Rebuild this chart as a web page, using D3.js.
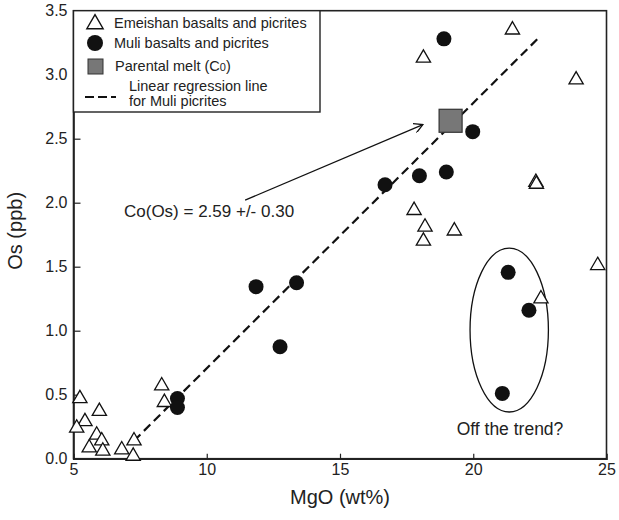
<!DOCTYPE html>
<html>
<head>
<meta charset="utf-8">
<script src="https://cdn.jsdelivr.net/npm/d3@7/dist/d3.min.js"></script>
<style>
  body { margin: 0; background: #fff; }
  svg { display: block; font-family: "Liberation Sans", Arial, Helvetica, sans-serif; }
</style>
</head>
<body>
<svg id="chart" width="619" height="520"></svg>
<script>
//Emeishan basalts and picrites (open triangles)
var emeishanMgO = [5.24, 5.97, 5.43, 5.12, 5.87, 6.06, 5.59, 6.10, 6.81, 7.27, 7.24, 8.31, 8.41, 21.47, 18.13, 23.86, 22.35, 22.37, 17.78, 18.19, 19.29, 18.13, 24.67, 22.54];
var emeishanOs = [0.47, 0.37, 0.29, 0.24, 0.185, 0.14, 0.086, 0.06, 0.07, 0.14, 0.02, 0.57, 0.44, 3.35, 3.13, 2.96, 2.16, 2.145, 1.94, 1.81, 1.78, 1.70, 1.51, 1.25];
//Muli basalts and picrites (filled circles)
var muliMgO = [8.9, 8.9, 11.85, 13.37, 12.75, 16.69, 17.98, 18.99, 19.98, 18.9, 21.31, 22.09, 21.09];
var muliOs = [0.47, 0.40, 1.344, 1.375, 0.875, 2.14, 2.21, 2.24, 2.555, 3.28, 1.456, 1.16, 0.51];
//Parental melt (C0)
var parentMgO = [19.15];
var parentOs = [2.64];
//Regression line for Muli picrites (end points)
var regMgO = [7.27, 22.44];
var regOs = [0.14, 3.285];
//Arrow from the label to the parental melt
var arrowMgO = [11.44, 18.11];
var arrowOs = [2.02, 2.61];
//"Off the trend?" ellipse: centre, half width, half height
var offTrendMgO = [21.35, 1.47];
var offTrendOs = [1.005, 0.64];
//Axis ticks
var xTicks = [5, 10, 15, 20, 25];
var yTicks = [0, 0.5, 1.0, 1.5, 2.0, 2.5, 3.0, 3.5];

var svg = d3.select("#chart");
var x = d3.scaleLinear().domain([5, 25]).range([73.5, 606.5]);
var y = d3.scaleLinear().domain([0, 3.5]).range([458.7, 10.7]);

//frame
svg.append("rect").attr("x", x(5)).attr("y", y(3.5)).attr("width", x(25) - x(5)).attr("height", y(0) - y(3.5))
    .attr("fill", "none").attr("stroke", "#222").attr("stroke-width", 1.6);

//axes, ticks point inward
var xAxis = svg.append("g").attr("transform", "translate(0," + y(0) + ")")
    .call(d3.axisBottom(x).tickValues(xTicks).tickSize(-5).tickPadding(5).tickFormat(d3.format("d")));
var yAxis = svg.append("g").attr("transform", "translate(" + x(5) + ",0)")
    .call(d3.axisLeft(y).tickValues(yTicks).tickSize(-7).tickPadding(6).tickFormat(d3.format(".1f")));
[xAxis, yAxis].forEach(function(a) {
    a.select(".domain").attr("stroke", "#222").attr("stroke-width", 1.6);
    a.selectAll(".tick line").attr("stroke", "#222").attr("stroke-width", 1.2);
    a.selectAll(".tick text").attr("font-size", 16).attr("fill", "#222").attr("font-family", "Liberation Sans, Arial, sans-serif");
});
xAxis.selectAll(".tick").filter(function(d) { return d === 5 || d === 25; }).select("line").remove();

//axis titles
svg.append("text").attr("x", x(15)).attr("y", 504).attr("text-anchor", "middle")
    .attr("font-size", 20).attr("fill", "#222").text("MgO (wt%)");
svg.append("text").attr("transform", "translate(22," + y(1.78) + ") rotate(-90)").attr("text-anchor", "middle")
    .attr("font-size", 20).attr("fill", "#222").text("Os (ppb)");

//regression line
svg.append("line").attr("x1", x(regMgO[0])).attr("y1", y(regOs[0])).attr("x2", x(regMgO[1])).attr("y2", y(regOs[1]))
    .attr("stroke", "#111").attr("stroke-width", 2.2).attr("stroke-dasharray", "9,5");

//arrow
svg.append("defs").append("marker").attr("id", "arr").attr("viewBox", "0 0 10 10").attr("refX", 9).attr("refY", 5)
    .attr("markerWidth", 10).attr("markerHeight", 10).attr("markerUnits", "userSpaceOnUse").attr("orient", "auto")
    .append("path").attr("d", "M0,0L9,5L0,10").attr("fill", "none").attr("stroke", "#111").attr("stroke-width", 1.3);
svg.append("line").attr("x1", x(arrowMgO[0])).attr("y1", y(arrowOs[0])).attr("x2", x(arrowMgO[1])).attr("y2", y(arrowOs[1]))
    .attr("stroke", "#111").attr("stroke-width", 1.2).attr("marker-end", "url(#arr)");
svg.append("text").attr("x", 124).attr("y", 217).attr("font-size", 17).attr("fill", "#222").text("Co(Os) = 2.59 +/- 0.30");

//ellipse
svg.append("ellipse").attr("cx", x(offTrendMgO[0])).attr("cy", y(offTrendOs[0]))
    .attr("rx", x(offTrendMgO[0] + offTrendMgO[1]) - x(offTrendMgO[0])).attr("ry", y(0) - y(offTrendOs[1]))
    .attr("fill", "none").attr("stroke", "#111").attr("stroke-width", 1.3);
svg.append("text").attr("x", 510).attr("y", 435).attr("text-anchor", "middle").attr("font-size", 17.5).attr("fill", "#222").text("Off the trend?");

//points
var tri = d3.symbol().type(d3.symbolTriangle).size(88);
svg.append("g").selectAll("path").data(emeishanMgO).join("path")
    .attr("d", tri).attr("transform", function(d, i) { return "translate(" + x(d) + "," + y(emeishanOs[i]) + ")"; })
    .attr("fill", "#fff").attr("stroke", "#111").attr("stroke-width", 1.3);
svg.append("g").selectAll("circle").data(muliMgO).join("circle")
    .attr("cx", function(d) { return x(d); }).attr("cy", function(d, i) { return y(muliOs[i]); }).attr("r", 7.5)
    .attr("fill", "#111");
svg.append("g").selectAll("rect").data(parentMgO).join("rect")
    .attr("x", function(d) { return x(d) - 11.5; }).attr("y", function(d, i) { return y(parentOs[i]) - 11.5; })
    .attr("width", 23).attr("height", 23).attr("fill", "#777").attr("stroke", "#333").attr("stroke-width", 1.2);

//legend
var lg = svg.append("g");
lg.append("rect").attr("x", x(5)).attr("y", y(3.5)).attr("width", 320 - x(5)).attr("height", 112 - y(3.5))
    .attr("fill", "#fff").attr("stroke", "#222").attr("stroke-width", 1.4);
lg.append("path").attr("d", d3.symbol().type(d3.symbolTriangle).size(115)).attr("transform", "translate(95,24)")
    .attr("fill", "#fff").attr("stroke", "#111").attr("stroke-width", 1.4);
lg.append("circle").attr("cx", 95).attr("cy", 43).attr("r", 8).attr("fill", "#111");
lg.append("rect").attr("x", 88).attr("y", 59).attr("width", 15).attr("height", 15).attr("fill", "#777").attr("stroke", "#333");
lg.append("line").attr("x1", 85).attr("y1", 97).attr("x2", 116).attr("y2", 97).attr("stroke", "#111").attr("stroke-width", 2.2).attr("stroke-dasharray", "9,4");
lg.append("text").attr("x", 114).attr("y", 28).attr("font-size", 14.5).attr("fill", "#222").text("Emeishan basalts and picrites");
lg.append("text").attr("x", 114).attr("y", 48).attr("font-size", 14.5).attr("fill", "#222").text("Muli basalts and picrites");
var pt = lg.append("text").attr("x", 115).attr("y", 71).attr("font-size", 14.5).attr("fill", "#222").text("Parental melt (C");
pt.append("tspan").attr("font-size", 11).text("0");
pt.append("tspan").text(")");
lg.append("text").attr("x", 129).attr("y", 91).attr("font-size", 14.5).attr("fill", "#222").text("Linear regression line");
lg.append("text").attr("x", 129).attr("y", 106).attr("font-size", 14.5).attr("fill", "#222").text("for Muli picrites");
</script>
</body>
</html>
